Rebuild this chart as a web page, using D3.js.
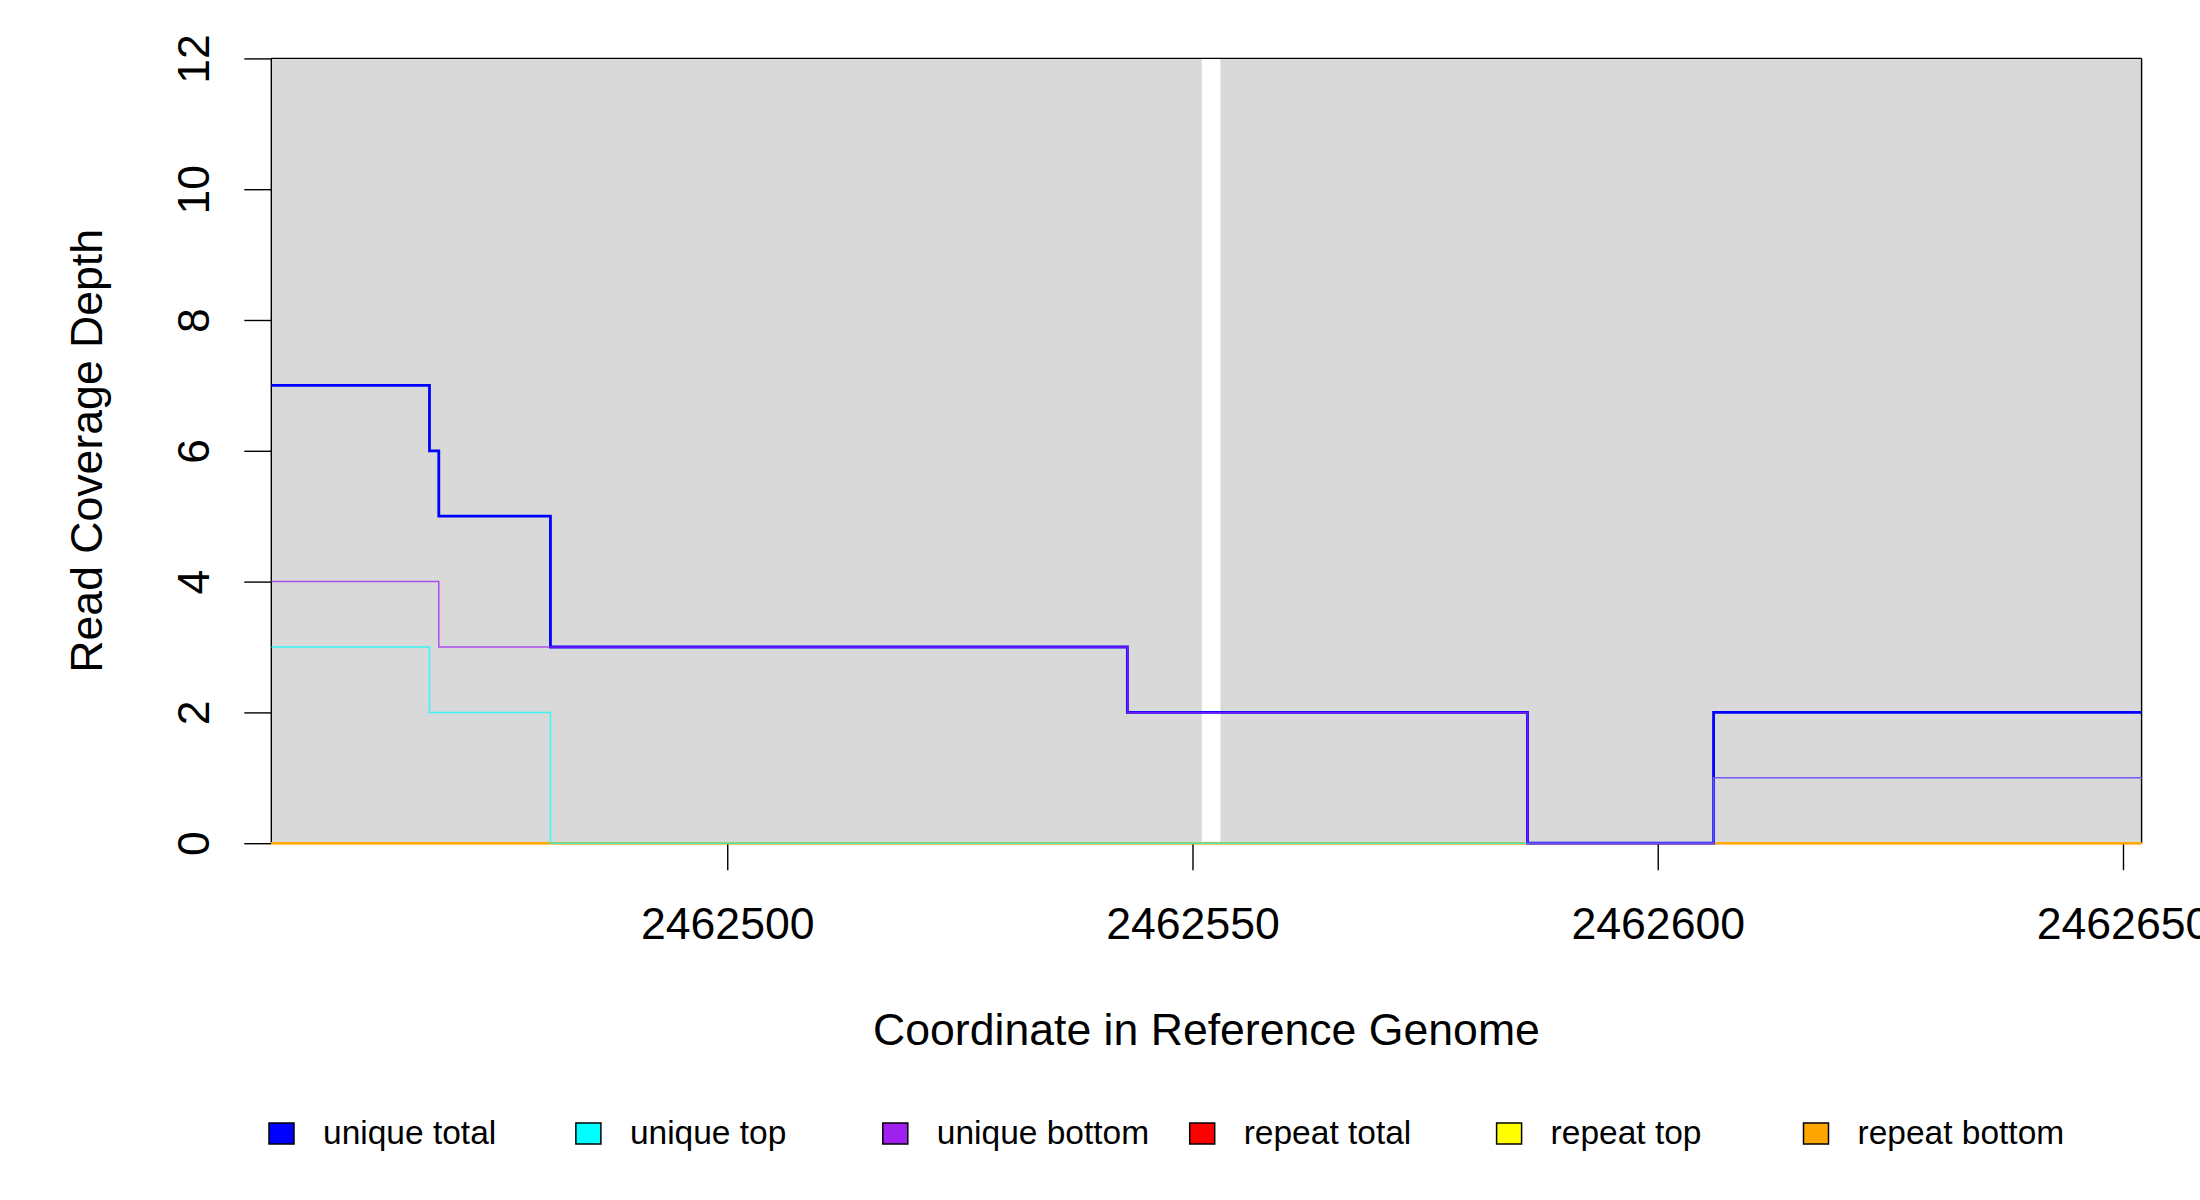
<!DOCTYPE html>
<html>
<head>
<meta charset="utf-8">
<script src="https://cdn.jsdelivr.net/npm/d3@7"></script>
<style>
  body { margin: 0; background: #ffffff; }
  svg { display: block; font-family: "Liberation Sans", Arial, sans-serif; }
</style>
</head>
<body>
<div id="chart"></div>
<script>
  /* ================== DATA ================== */

  // segment boundaries of the step lines (coordinates)
  const positions = [2462451, 2462468, 2462469, 2462481, 2462543, 2462586, 2462606, 2462652];

  // depth of each segment
  const uniqueTotal = [7, 6, 5, 3, 2, 0, 2];
  const uniqueTop = [3, 2, 2, 0, 0, 0, 1];
  const uniqueBottom = [4, 4, 3, 3, 2, 0, 1];
  const repeatTotal = [0, 0, 0, 0, 0, 0, 0];
  const repeatTop = [0, 0, 0, 0, 0, 0, 0];
  const repeatBottom = [0, 0, 0, 0, 0, 0, 0];

  // grey annotated regions
  const regionStarts = [2462451, 2462553];
  const regionEnds = [2462551, 2462652];

  const xTicks = [2462500, 2462550, 2462600, 2462650];
  const yTicks = [0, 2, 4, 6, 8, 10, 12];

  const legendNames = ["unique total", "unique top", "unique bottom", "repeat total", "repeat top", "repeat bottom"];
  const legendColors = ["#0000ff", "#00ffff", "#a020f0", "#ff0000", "#ffff00", "#ffa500"];

  /* ================== SETUP ================== */

  const width = 2200;
  const height = 1200;
  const plotLeft = 271.3, plotRight = 2141.6, plotTop = 58.4, plotBottom = 843.2;

  const svg = d3
    .select("#chart")
    .append("svg")
    .attr("width", width)
    .attr("height", height);

  svg.append("rect").attr("width", width).attr("height", height).attr("fill", "#ffffff");

  const x = d3.scaleLinear().domain([positions[0], positions[positions.length - 1]]).range([plotLeft, plotRight]);
  const y = d3.scaleLinear().domain([0, 12]).range([plotBottom, plotTop]);

  /* ================== REGIONS ================== */

  svg
    .append("g")
    .selectAll("rect")
    .data(regionStarts)
    .enter()
    .append("rect")
    .attr("x", (d) => x(d))
    .attr("y", y(12))
    .attr("width", (d, i) => x(regionEnds[i]) - x(d))
    .attr("height", y(0) - y(12))
    .attr("fill", "#d9d9d9");

  // frame
  const frame = svg.append("g").attr("stroke", "#000").attr("stroke-width", 1.4);
  frame.append("line").attr("x1", plotLeft).attr("x2", plotRight).attr("y1", plotTop).attr("y2", plotTop);
  frame.append("line").attr("x1", plotLeft).attr("x2", plotLeft).attr("y1", plotTop).attr("y2", plotBottom);
  frame.append("line").attr("x1", plotRight).attr("x2", plotRight).attr("y1", plotTop).attr("y2", plotBottom);
  frame.append("line").attr("x1", plotLeft).attr("x2", plotRight).attr("y1", plotBottom).attr("y2", plotBottom);

  /* ================== AXES ================== */

  const yAxis = svg
    .append("g")
    .attr("transform", `translate(${plotLeft},0)`)
    .call(d3.axisLeft(y).tickValues(yTicks).tickSize(27).tickSizeOuter(0));
  yAxis.select(".domain").remove();
  yAxis.selectAll("line").attr("stroke", "#000").attr("stroke-width", 1.4);
  yAxis
    .selectAll("text")
    .attr("x", 0)
    .attr("y", -62)
    .attr("dy", 0)
    .attr("transform", "rotate(-90)")
    .attr("text-anchor", "middle")
    .attr("fill", "#000")
    .style("font-size", "44.6px")
    .style("font-family", "Liberation Sans, Arial, sans-serif");

  const xAxis = svg
    .append("g")
    .attr("transform", `translate(0,${plotBottom})`)
    .call(d3.axisBottom(x).tickValues(xTicks).tickSize(27).tickSizeOuter(0).tickFormat(d3.format("d")));
  xAxis.select(".domain").remove();
  xAxis.selectAll("line").attr("stroke", "#000").attr("stroke-width", 1.4);
  xAxis
    .selectAll("text")
    .attr("y", 96)
    .attr("dy", 0)
    .attr("fill", "#000")
    .style("font-size", "44.6px")
    .style("font-family", "Liberation Sans, Arial, sans-serif");

  svg
    .append("text")
    .attr("transform", `translate(102,${(plotTop + plotBottom) / 2}) rotate(-90)`)
    .attr("text-anchor", "middle")
    .style("font-size", "44.6px")
    .text("Read Coverage Depth");

  svg
    .append("text")
    .attr("x", (plotLeft + plotRight) / 2)
    .attr("y", 1045)
    .attr("text-anchor", "middle")
    .style("font-size", "44.6px")
    .text("Coordinate in Reference Genome");

  /* ================== STEP LINES ================== */

  function stepPoints(values) {
    const pts = values.map((v, i) => [positions[i], v]);
    pts.push([positions[positions.length - 1], values[values.length - 1]]);
    return pts;
  }

  const line = d3
    .line()
    .x((d) => x(d[0]))
    .y((d) => y(d[1]))
    .curve(d3.curveStepAfter);

  // repeat lines are drawn first, unique lines on top
  const series = [
    { values: repeatTotal, color: legendColors[3], width: 2, opacity: 1 },
    { values: repeatTop, color: legendColors[4], width: 2, opacity: 1 },
    { values: repeatBottom, color: legendColors[5], width: 2, opacity: 1 },
    { values: uniqueTotal, color: legendColors[0], width: 2.8, opacity: 1 },
    { values: uniqueTop, color: legendColors[1], width: 1.5, opacity: 0.75 },
    { values: uniqueBottom, color: legendColors[2], width: 1.5, opacity: 0.75 },
  ];

  svg
    .append("g")
    .selectAll("path")
    .data(series)
    .enter()
    .append("path")
    .attr("d", (d) => line(stepPoints(d.values)))
    .attr("fill", "none")
    .attr("stroke", (d) => d.color)
    .attr("stroke-width", (d) => d.width)
    .attr("stroke-opacity", (d) => d.opacity);

  /* ================== LEGEND ================== */

  const legend = svg
    .append("g")
    .selectAll("g")
    .data(legendNames)
    .enter()
    .append("g")
    .attr("transform", (d, i) => `translate(${269 + i * 306.9},1133.5)`);

  legend
    .append("rect")
    .attr("x", 0)
    .attr("y", -10.5)
    .attr("width", 25)
    .attr("height", 21)
    .attr("fill", (d, i) => legendColors[i])
    .attr("stroke", "#000")
    .attr("stroke-width", 1.5);

  legend
    .append("text")
    .attr("x", 54)
    .attr("y", 10)
    .style("font-size", "33.5px")
    .text((d) => d);
</script>
</body>
</html>
